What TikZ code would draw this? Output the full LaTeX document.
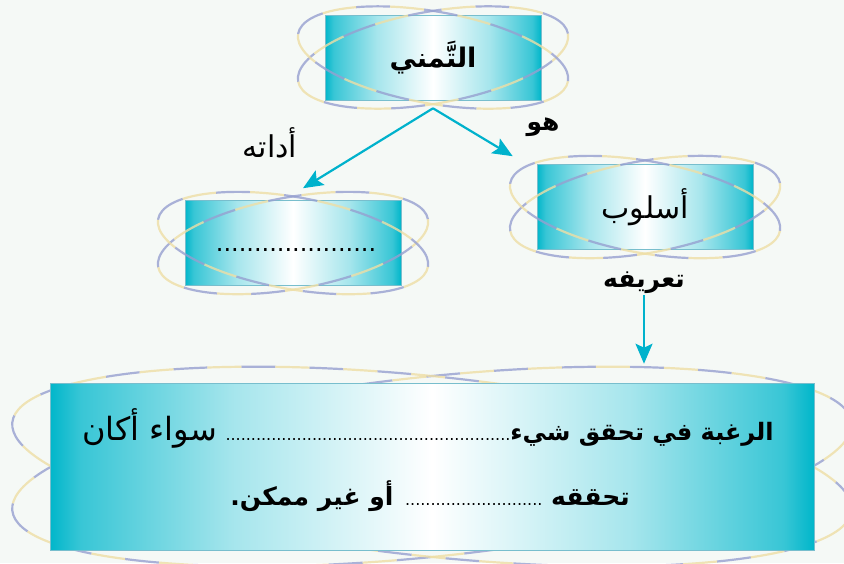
\documentclass[tikz,border=0pt]{standalone}
\usepackage{fontspec}
\usepackage{xcolor}
\usetikzlibrary{positioning, arrows.meta}
\TeXXeTstate=1
\newfontfamily\arabicfont[Script=Arabic]{DejaVu Sans}
\definecolor{bgcolor}{RGB}{245,249,246}
\definecolor{boxcyan}{RGB}{0,182,202}
\definecolor{boxline}{RGB}{120,190,205}
\definecolor{ringblue}{RGB}{150,160,208}
\definecolor{ringyellow}{RGB}{238,222,165}
\definecolor{linkcyan}{RGB}{0,178,204}
\pgfdeclarehorizontalshading{boxfade}{100bp}{color(0bp)=(boxcyan); color(25bp)=(boxcyan); color(27bp)=(boxcyan!78!white); color(37bp)=(boxcyan!35!white); color(50bp)=(white); color(63bp)=(boxcyan!35!white); color(73bp)=(boxcyan!78!white); color(75bp)=(boxcyan); color(100bp)=(boxcyan)}
\tikzstyle{box} = [draw=boxline, line width=0.6pt, shading=boxfade, minimum width=216pt, minimum height=85pt, inner sep=0pt, font=\arabicfont\fontsize{30}{34}\selectfont]
\tikzstyle{ring} = [line width=2.2pt, draw opacity=0.8, draw=ringblue, dash pattern=on 34pt off 34pt,
	postaction={draw=ringyellow, dash pattern=on 34pt off 34pt, dash phase=34pt}]
\tikzstyle{lbl} = [inner sep=1pt, font=\arabicfont\fontsize{24}{28}\selectfont]
\tikzstyle{boldlbl} = [inner sep=1pt, font=\arabicfont\bfseries\fontsize{25}{29}\selectfont]
\tikzstyle{link} = [draw=linkcyan, line width=2.2pt, -{Stealth[length=20pt, width=17pt, inset=4pt]}]

\begin{document}
\begin{tikzpicture}[x=1pt, y=-1pt]
	\useasboundingbox (0,0) rectangle (844,563);
	\fill[bgcolor] (0,0) rectangle (844,563);
	\clip (0,0) rectangle (844,563);
	
	% top box
	\node[box, font=\arabicfont\bfseries\fontsize{27}{31}\selectfont] (tamanni) at (433,57.5) {\beginR التَّمني\endR};
	\foreach \a in {10,-10}
		\draw[ring, rotate around={\a:(tamanni.center)}] (tamanni.center) ellipse [x radius=137pt, y radius=46pt];
	
	% tool and style boxes
	\node[box] (adat) at (293,243) {};
	\node[lbl] (dots) at (296,250) {.....................};
	\node[box] (uslub) at (645,207) {\beginR أسلوب\endR};
	\foreach \a in {10,-10} {
		\draw[ring, rotate around={\a:(adat.center)}] (adat.center) ellipse [x radius=137pt, y radius=46pt];
		\draw[ring, rotate around={\a:(uslub.center)}] (uslub.center) ellipse [x radius=137pt, y radius=46pt];
	}
	
	% labels
	\node[lbl, font=\arabicfont\fontsize{30}{34}\selectfont] (adatuhu) at (270,143) {\beginR أداته\endR};
	\node[boldlbl] (huwa) at (543,127) {\beginR هو\endR};
	\node[boldlbl] (tareef) at (644,283) {\beginR تعريفه\endR};
	
	% definition box
	\coordinate (defc) at (432,466.5);
	\foreach \a in {6,-6}
		\draw[ring, rotate around={\a:(defc)}] (defc) ellipse [x radius=422pt, y radius=90pt];
	\node[box, minimum width=764pt, minimum height=167pt] (def) at (defc) {};
	\node[boldlbl, font=\arabicfont\bfseries\fontsize{24}{28}\selectfont] (lineA) at (428,428)
		{\beginR الرغبة في تحقق شيء{\mdseries\fontsize{16}{16}\selectfont ........................................................}\ {\mdseries\fontsize{32}{34}\selectfont سواء أكان}\endR};
	\node[boldlbl] (lineB) at (430,496)
		{\beginR تحققه {\mdseries\fontsize{16}{16}\selectfont ...........................} أو غير ممكن.\endR};
	
	% connections
	\coordinate (fork) at ([yshift=-8pt]tamanni.south);
	\draw[link] (fork) -- ([shift={(10pt,12pt)}]adat.north);
	\draw[link] (fork) -- ([shift={(-24pt,8pt)}]uslub.north west);
	\draw[link, shorten >=19pt] (tareef.south) -- (tareef.south |- def.north);
	
\end{tikzpicture}
\end{document}
